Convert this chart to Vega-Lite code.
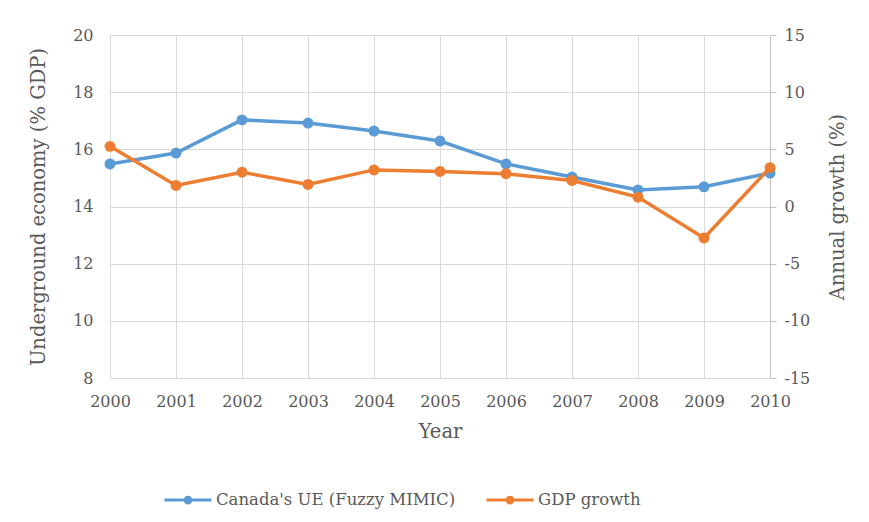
{
  "$schema": "https://vega.github.io/schema/vega-lite/v6.json",
  "width": 660,
  "height": 343,
  "autosize": {"type": "none"},
  "padding": {"left": 110, "top": 35, "right": 99, "bottom": 144},
  "background": "white",
  "config": {
    "view": {"stroke": null},
    "font": "DejaVu Serif",
    "axis": {
      "labelFont": "DejaVu Serif",
      "titleFont": "DejaVu Serif",
      "labelColor": "#595959",
      "titleColor": "#595959",
      "labelFontSize": 16,
      "titleFontSize": 19.5,
      "titleFontWeight": "normal",
      "gridColor": "#d9d9d9",
      "gridWidth": 1,
      "domainColor": "#bfbfbf",
      "tickColor": "#bfbfbf"
    },
    "legend": {
      "labelFont": "DejaVu Serif",
      "labelFontSize": 16.5,
      "labelColor": "#595959",
      "labelLimit": 400
    }
  },
  "data": {
    "values": [
      {"year": 2000, "ue": 15.49, "gdp": 5.26},
      {"year": 2001, "ue": 15.87, "gdp": 1.84},
      {"year": 2002, "ue": 17.03, "gdp": 3.0},
      {"year": 2003, "ue": 16.92, "gdp": 1.93},
      {"year": 2004, "ue": 16.64, "gdp": 3.2},
      {"year": 2005, "ue": 16.29, "gdp": 3.07},
      {"year": 2006, "ue": 15.49, "gdp": 2.87},
      {"year": 2007, "ue": 15.03, "gdp": 2.28},
      {"year": 2008, "ue": 14.58, "gdp": 0.82},
      {"year": 2009, "ue": 14.69, "gdp": -2.75},
      {"year": 2010, "ue": 15.17, "gdp": 3.4}
    ]
  },
  "encoding": {
    "x": {
      "field": "year",
      "type": "quantitative",
      "scale": {"domain": [2000, 2010], "nice": false, "zero": false},
      "axis": {
        "values": [2000, 2001, 2002, 2003, 2004, 2005, 2006, 2007, 2008, 2009, 2010],
        "format": "d",
        "title": "Year",
        "ticks": false,
        "domain": false,
        "labelFlush": false,
        "labelOverlap": false,
        "labelPadding": 15,
        "titlePadding": 13,
        "grid": true
      }
    }
  },
  "layer": [
    {
      "mark": {"type": "line", "strokeWidth": 3.5, "point": {"filled": true, "size": 120, "opacity": 1}},
      "encoding": {
        "y": {
          "field": "ue",
          "type": "quantitative",
          "scale": {"domain": [8, 20], "nice": false, "zero": false},
          "axis": {
            "orient": "left",
            "values": [8, 10, 12, 14, 16, 18, 20],
            "title": "Underground economy (% GDP)",
            "ticks": false,
            "domain": false,
            "labelFlush": false,
            "labelPadding": 17,
            "titlePadding": 24,
            "grid": true
          }
        },
        "color": {
          "datum": "Canada's UE (Fuzzy MIMIC)",
          "type": "nominal",
          "scale": {
            "domain": ["Canada's UE (Fuzzy MIMIC)", "GDP growth"],
            "range": ["#5B9BD5", "#ED7D31"]
          },
          "legend": {
            "orient": "none",
            "legendX": 53,
            "legendY": 440,
            "direction": "horizontal",
            "title": null,
            "symbolType": "M-1,0H1M-0.12,0A0.12,0.12 0 1,0 0.12,0A0.12,0.12 0 1,0 -0.12,0",
            "symbolSize": 2209,
            "symbolStrokeWidth": 3,
            "labelOffset": 3,
            "columnPadding": 24
          }
        }
      }
    },
    {
      "mark": {"type": "line", "strokeWidth": 3.5, "point": {"filled": true, "size": 120, "opacity": 1}},
      "encoding": {
        "y": {
          "field": "gdp",
          "type": "quantitative",
          "scale": {"domain": [-15, 15], "nice": false, "zero": false},
          "axis": {
            "orient": "right",
            "values": [-15, -10, -5, 0, 5, 10, 15],
            "labelExpr": "toString(datum.value)",
            "title": "Annual growth (%)",
            "titleAngle": -90,
            "ticks": true,
            "tickSize": 6,
            "domain": true,
            "labelFlush": false,
            "labelPadding": 8,
            "titlePadding": 38,
            "grid": false
          }
        },
        "color": {"datum": "GDP growth", "type": "nominal"}
      }
    }
  ],
  "resolve": {"scale": {"y": "independent"}}
}
